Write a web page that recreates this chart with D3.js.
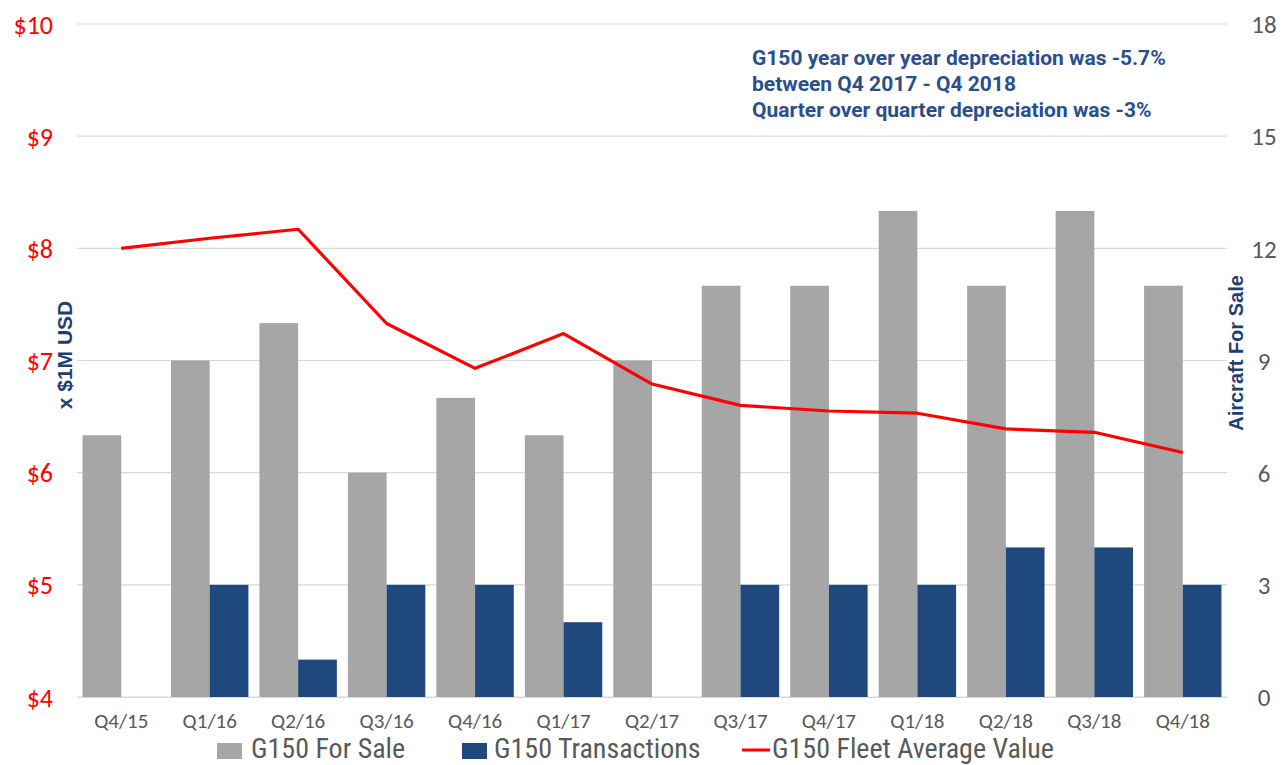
<!DOCTYPE html>
<html><head><meta charset="utf-8">
<script src="https://cdn.jsdelivr.net/npm/d3@7"></script>
<style>body{margin:0;background:#fff;} svg{display:block;}</style>
</head><body>
<svg id="c" width="1288" height="765"></svg>
<script>
const categories = ["Q4/15","Q1/16","Q2/16","Q3/16","Q4/16","Q1/17","Q2/17","Q3/17","Q4/17","Q1/18","Q2/18","Q3/18","Q4/18"];
const forSale = [7, 9, 10, 6, 8, 7, 9, 11, 11, 13, 11, 13, 11];
const transactions = [0, 3, 1, 3, 3, 2, 0, 3, 3, 3, 4, 4, 3];
const avgValue = [8.00, 8.09, 8.17, 7.33, 6.93, 7.24, 6.79, 6.60, 6.55, 6.53, 6.39, 6.36, 6.18];
const leftTicks = [4,5,6,7,8,9,10];
const rightTicks = [0,3,6,9,12,15,18];
const notes = ["G150 year over year depreciation was -5.7%","between Q4 2017 - Q4 2018","Quarter over quarter depreciation was -3%"];

const svg = d3.select("#c");
const L = 77, R = 1227, T = 24, B = 697;
const condensed = "'Liberation Sans Narrow','Roboto Condensed',Roboto,sans-serif";
const calibri = "Carlito,'Liberation Sans Narrow',sans-serif";

const x = d3.scaleBand().domain(categories).range([L, R]).paddingInner(0.125).paddingOuter(0.0625);
const xs = d3.scaleBand().domain(["s","t"]).range([0, x.bandwidth()]);
const yL = d3.scaleLinear().domain([4,10]).range([B, T]);
const yR = d3.scaleLinear().domain([0,18]).range([B, T]);

// gridlines
svg.append("g").selectAll("line").data(rightTicks).join("line")
  .attr("x1", L).attr("x2", R).attr("y1", d=>yR(d)).attr("y2", d=>yR(d))
  .attr("stroke", "#d9d9d9").attr("stroke-width", 1.2);

// bars
const g = svg.append("g");
categories.forEach((c,i)=>{
  g.append("rect").attr("x", x(c)+xs("s")).attr("width", xs.bandwidth())
    .attr("y", yR(forSale[i])).attr("height", yR(0)-yR(forSale[i])).attr("fill","#a6a6a6");
  g.append("rect").attr("x", x(c)+xs("t")).attr("width", xs.bandwidth())
    .attr("y", yR(transactions[i])).attr("height", yR(0)-yR(transactions[i])).attr("fill","#1f497d");
});

// line
const line = d3.line().x((d,i)=>x(categories[i])+x.bandwidth()/2).y(d=>yL(d));
svg.append("path").datum(avgValue).attr("d", line).attr("fill","none")
  .attr("stroke","#ff0000").attr("stroke-width",3.2).attr("stroke-linejoin","round");

// left axis
const axL = d3.axisLeft(yL).tickValues(leftTicks).tickFormat(d=>"$"+d).tickSize(0).tickPadding(0);
const gl = svg.append("g").attr("transform",`translate(53,0)`).call(axL);
gl.select(".domain").remove();
gl.selectAll("text").attr("fill","#ff0000").attr("font-size",26).attr("font-family",calibri).attr("dy","0.35em");

// right axis
const axR = d3.axisRight(yR).tickValues(rightTicks).tickSize(0).tickPadding(0);
const gr = svg.append("g").attr("transform",`translate(1264,0)`).call(axR);
gr.select(".domain").remove();
gr.selectAll("text").attr("fill","#595959").attr("font-size",25).attr("font-family",calibri).attr("text-anchor","middle").attr("dy","0.35em");

// x axis
const axX = d3.axisBottom(x).tickSize(0).tickPadding(0);
const gx = svg.append("g").attr("transform",`translate(0,${B})`).call(axX);
gx.select(".domain").attr("stroke","#d9d9d9");
gx.selectAll("text").attr("fill","#595959").attr("font-size",21).attr("font-family",calibri).attr("y",31).attr("dy",0);

// axis titles
svg.append("text").attr("transform","translate(72,355) rotate(-90)").attr("text-anchor","middle")
  .attr("font-family","'Liberation Sans',Arial,sans-serif").attr("font-weight","bold").attr("font-size",21)
  .attr("fill","#1f3f73").text("x $1M USD");
svg.append("text").attr("transform","translate(1243,353) rotate(-90)").attr("text-anchor","middle")
  .attr("font-family","'Liberation Sans',Arial,sans-serif").attr("font-weight","bold").attr("font-size",20)
  .attr("fill","#1f3f73").text("Aircraft For Sale");

// annotation
svg.append("g").selectAll("text").data(notes).join("text")
  .attr("x",752).attr("y",(d,i)=>65+i*26)
  .attr("font-family","Roboto,sans-serif").attr("font-weight","bold").attr("font-size",21)
  .attr("fill","#2b4f8a").text(d=>d);

// legend
const lg = svg.append("g").attr("font-family",condensed).attr("font-size",28).attr("fill","#595959");
lg.append("rect").attr("x",217).attr("y",743).attr("width",25).attr("height",16).attr("fill","#a6a6a6");
lg.append("text").attr("x",251).attr("y",758).text("G150 For Sale");
lg.append("rect").attr("x",462).attr("y",743).attr("width",25).attr("height",16).attr("fill","#1f497d");
lg.append("text").attr("x",494).attr("y",758).text("G150 Transactions");
lg.append("line").attr("x1",742).attr("x2",770).attr("y1",750).attr("y2",750).attr("stroke","#ff0000").attr("stroke-width",3);
lg.append("text").attr("x",772).attr("y",758).text("G150 Fleet Average Value");
</script>
</body></html>
